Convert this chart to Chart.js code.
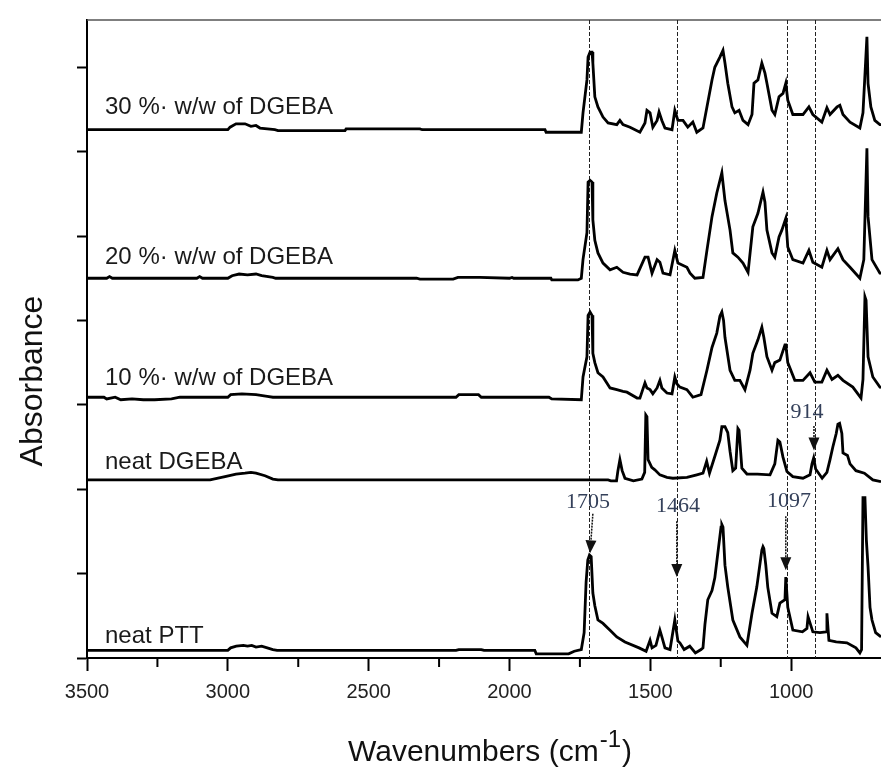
<!DOCTYPE html>
<html>
<head>
<meta charset="utf-8">
<script src="https://cdn.jsdelivr.net/npm/chart.js@4.4.1/dist/chart.umd.min.js"></script>
<style>
  body { margin: 0; background: #fff; }
  canvas { display: block; }
</style>
</head>
<body>
<canvas id="ftirChart" width="881" height="767"></canvas>
<script>
// FTIR spectra, stacked: [wavenumber (cm-1), absorbance (a.u.)]
const neatPTT = [
  [3500,0.09],[3000,0.09],[2990,0.12],[2970,0.14],[2945,0.15],[2930,0.14],[2915,0.15],[2900,0.13],
  [2880,0.14],[2860,0.12],[2840,0.10],[2825,0.09],[2190,0.09],[2180,0.10],[2100,0.10],[2090,0.09],
  [1910,0.09],[1905,0.05],[1790,0.05],[1770,0.08],[1745,0.10],[1735,0.30],[1728,0.90],[1722,1.16],
  [1716,1.22],[1710,1.20],[1704,0.77],[1697,0.62],[1686,0.45],[1668,0.41],[1643,0.33],[1619,0.25],
  [1590,0.19],[1540,0.12],[1515,0.08],[1501,0.21],[1494,0.12],[1480,0.15],[1466,0.33],[1459,0.25],
  [1448,0.12],[1430,0.10],[1413,0.45],[1402,0.20],[1395,0.18],[1380,0.10],[1360,0.14],[1340,0.06],
  [1320,0.10],[1313,0.12],[1306,0.40],[1296,0.69],[1281,0.80],[1271,0.95],[1260,1.25],[1249,1.55],
  [1246,1.58],[1242,1.55],[1235,1.10],[1225,0.84],[1207,0.45],[1182,0.25],[1157,0.15],[1139,0.53],
  [1122,0.84],[1104,1.28],[1100,1.32],[1097,1.30],[1090,1.10],[1083,0.84],[1068,0.53],[1051,0.49],
  [1040,0.65],[1022,0.69],[1019,0.96],[1012,0.60],[994,0.33],[960,0.31],[944,0.35],[940,0.49],
  [923,0.31],[898,0.30],[876,0.31],[873,0.53],[866,0.21],[840,0.19],[802,0.18],[770,0.12],
  [756,0.06],[750,0.10],[745,1.90],[738,1.90],[733,1.40],[727,1.08],[720,0.60],[713,0.45],
  [700,0.30],[681,0.25]
];
const neatDGEBA = [
  [3500,2.11],[3063,2.11],[3010,2.15],[2971,2.18],[2939,2.19],[2918,2.20],[2900,2.19],[2868,2.16],
  [2840,2.12],[2822,2.11],[1650,2.11],[1640,2.10],[1620,2.10],[1615,2.22],[1608,2.35],[1600,2.22],
  [1590,2.13],[1560,2.10],[1530,2.12],[1520,2.20],[1516,2.88],[1512,2.86],[1508,2.35],[1495,2.26],
  [1484,2.23],[1466,2.17],[1441,2.14],[1420,2.13],[1370,2.14],[1335,2.17],[1313,2.19],[1300,2.33],
  [1290,2.19],[1270,2.40],[1253,2.58],[1246,2.74],[1235,2.74],[1225,2.67],[1217,2.45],[1207,2.22],
  [1197,2.25],[1189,2.72],[1185,2.70],[1175,2.25],[1157,2.18],[1120,2.18],[1075,2.17],[1058,2.30],
  [1047,2.58],[1040,2.56],[1029,2.38],[1015,2.21],[994,2.15],[958,2.13],[933,2.17],[926,2.30],
  [920,2.37],[913,2.24],[890,2.13],[873,2.20],[862,2.35],[852,2.50],[840,2.66],[834,2.77],
  [828,2.78],[820,2.66],[816,2.43],[800,2.40],[791,2.30],[770,2.22],[740,2.19],[710,2.11],[681,2.09]
];
const dgeba10 = [
  [3500,3.09],[3440,3.09],[3430,3.07],[3400,3.09],[3380,3.06],[3340,3.07],[3300,3.06],[3260,3.06],
  [3200,3.07],[3170,3.09],[3000,3.09],[2990,3.12],[2950,3.13],[2900,3.12],[2860,3.10],[2840,3.09],
  [2190,3.09],[2180,3.12],[2110,3.12],[2100,3.09],[1860,3.09],[1850,3.07],[1745,3.06],[1739,3.33],
  [1725,3.57],[1721,4.06],[1714,4.10],[1707,4.06],[1704,3.61],[1697,3.50],[1686,3.38],[1668,3.33],
  [1643,3.20],[1619,3.18],[1597,3.16],[1583,3.15],[1547,3.08],[1537,3.08],[1519,3.26],[1512,3.20],
  [1501,3.18],[1491,3.13],[1476,3.20],[1466,3.29],[1459,3.20],[1441,3.14],[1423,3.13],[1413,3.33],
  [1406,3.25],[1395,3.21],[1370,3.18],[1349,3.09],[1320,3.12],[1299,3.41],[1281,3.68],[1264,3.85],
  [1253,4.05],[1246,4.10],[1240,4.00],[1235,3.80],[1217,3.41],[1200,3.29],[1182,3.29],[1164,3.18],
  [1146,3.41],[1136,3.61],[1118,3.77],[1104,3.92],[1097,3.80],[1086,3.57],[1068,3.41],[1058,3.50],
  [1040,3.53],[1022,3.71],[1019,3.71],[1012,3.50],[987,3.29],[958,3.29],[933,3.38],[916,3.27],
  [891,3.27],[873,3.41],[855,3.30],[834,3.35],[816,3.29],[781,3.21],[752,3.08],[745,3.30],
  [738,4.28],[734,4.24],[727,3.57],[710,3.33],[685,3.21],[681,3.20]
];
const dgeba20 = [
  [3500,4.50],[3430,4.50],[3420,4.52],[3410,4.50],[3110,4.50],[3100,4.52],[3090,4.50],[3000,4.50],
  [2985,4.53],[2960,4.55],[2930,4.54],[2900,4.55],[2880,4.53],[2840,4.51],[2830,4.50],[2330,4.50],
  [2318,4.49],[2200,4.49],[2183,4.51],[2105,4.51],[2000,4.50],[1991,4.51],[1985,4.50],[1853,4.50],
  [1850,4.48],[1757,4.48],[1745,4.50],[1739,4.72],[1725,5.04],[1721,5.64],[1714,5.66],[1707,5.64],
  [1704,5.19],[1697,4.95],[1686,4.80],[1668,4.68],[1643,4.60],[1619,4.63],[1597,4.57],[1572,4.55],
  [1547,4.54],[1519,4.75],[1508,4.75],[1494,4.56],[1476,4.72],[1466,4.69],[1455,4.56],[1430,4.54],
  [1413,4.83],[1402,4.68],[1370,4.63],[1359,4.56],[1342,4.50],[1313,4.51],[1299,4.83],[1281,5.23],
  [1264,5.51],[1246,5.75],[1235,5.42],[1217,5.07],[1207,4.80],[1189,4.75],[1171,4.68],[1153,4.57],
  [1136,5.11],[1118,5.27],[1100,5.52],[1093,5.40],[1086,5.07],[1068,4.80],[1058,4.75],[1043,4.99],
  [1033,5.07],[1019,5.21],[1012,4.87],[994,4.72],[958,4.68],[937,4.83],[923,4.69],[891,4.63],
  [873,4.83],[862,4.72],[834,4.85],[816,4.72],[791,4.63],[756,4.50],[742,4.72],[731,6.04],
  [727,5.23],[713,4.72],[685,4.56],[681,4.56]
];
const dgeba30 = [
  [3500,6.26],[3000,6.26],[2992,6.29],[2971,6.33],[2939,6.33],[2918,6.30],[2900,6.31],[2886,6.28],
  [2833,6.26],[2822,6.25],[2584,6.25],[2580,6.27],[2318,6.27],[2310,6.26],[1874,6.26],[1870,6.23],
  [1745,6.23],[1739,6.46],[1725,6.85],[1721,7.12],[1714,7.18],[1707,7.18],[1704,7.05],[1697,6.65],
  [1686,6.53],[1668,6.41],[1650,6.34],[1619,6.32],[1608,6.37],[1597,6.32],[1572,6.29],[1537,6.23],
  [1519,6.34],[1512,6.49],[1501,6.46],[1491,6.29],[1476,6.37],[1469,6.47],[1459,6.37],[1448,6.28],
  [1423,6.26],[1413,6.49],[1402,6.37],[1384,6.37],[1367,6.29],[1349,6.35],[1335,6.23],[1313,6.28],
  [1299,6.53],[1281,6.85],[1271,7.00],[1253,7.12],[1242,7.20],[1235,7.05],[1225,6.81],[1210,6.53],
  [1200,6.46],[1185,6.49],[1171,6.37],[1153,6.32],[1139,6.44],[1132,6.81],[1118,6.85],[1104,7.05],
  [1093,6.93],[1086,6.81],[1068,6.49],[1058,6.44],[1043,6.65],[1029,6.69],[1019,6.81],[1012,6.61],
  [994,6.44],[958,6.44],[937,6.53],[923,6.44],[891,6.35],[873,6.52],[862,6.44],[837,6.53],
  [827,6.55],[816,6.44],[791,6.35],[756,6.28],[745,6.46],[731,7.36],[727,6.81],[717,6.53],
  [703,6.37],[685,6.32],[681,6.32]
];

// labels of the traces and where they sit (left wavenumber, absorbance)
const traceLabels = ["neat PTT", "neat DGEBA", "10 %\u00b7 w/w of DGEBA", "20 %\u00b7 w/w of DGEBA", "30 %\u00b7 w/w of DGEBA"];
const traceLabelY = [0.26, 2.32, 3.31, 4.75, 6.53];
const traceLabelX = 3436;

// marked bands: dashed line position, label text, label position, arrow start/end
const bandLines = [1718, 1406, 1015, 916];
const bandNames = ["1705", "1464", "1097", "914"];
const bandNamePos = [[1721, 1.85], [1402, 1.80], [1008, 1.86], [944, 2.91]];
const bandArrows = [[1704, 1.71, 1714, 1.24], [1406, 1.62, 1406, 0.96], [1019, 1.68, 1019, 1.04], [919, 2.75, 919, 2.46]];

const xMin = 681, xMax = 3500;
const yMin = 0, yMax = 7.56;

const toXY = arr => arr.map(p => ({ x: p[0], y: p[1] }));
const spectra = [neatPTT, neatDGEBA, dgeba10, dgeba20, dgeba30];

function arrow(ctx, x1, y1, x2, y2) {
  const head = 13, half = 5.5;
  const ang = Math.atan2(y2 - y1, x2 - x1);
  const bx = x2 - head * Math.cos(ang), by = y2 - head * Math.sin(ang);
  ctx.beginPath();
  ctx.setLineDash([2, 1]);
  ctx.moveTo(x1, y1);
  ctx.lineTo(bx, by);
  ctx.stroke();
  ctx.setLineDash([]);
  ctx.beginPath();
  ctx.moveTo(x2, y2);
  ctx.lineTo(bx + half * Math.sin(ang), by - half * Math.cos(ang));
  ctx.lineTo(bx - half * Math.sin(ang), by + half * Math.cos(ang));
  ctx.closePath();
  ctx.fill();
}

const decorations = {
  id: 'decorations',
  beforeDatasetsDraw(chart) {
    const { ctx, chartArea: a, scales: { x } } = chart;
    ctx.save();
    // top frame line
    ctx.strokeStyle = '#555';
    ctx.lineWidth = 1.5;
    ctx.beginPath();
    ctx.moveTo(a.left, a.top);
    ctx.lineTo(a.right, a.top);
    ctx.stroke();
    // dashed band lines
    ctx.strokeStyle = '#222';
    ctx.lineWidth = 1;
    ctx.setLineDash([4, 2]);
    bandLines.forEach(v => {
      const px = Math.round(x.getPixelForValue(v)) + 0.5;
      ctx.beginPath();
      ctx.moveTo(px, a.top);
      ctx.lineTo(px, a.bottom);
      ctx.stroke();
    });
    ctx.restore();
  },
  afterDraw(chart) {
    const { ctx, chartArea: a, scales: { x, y } } = chart;
    ctx.save();
    // minor x ticks
    ctx.strokeStyle = '#000';
    ctx.lineWidth = 2;
    x.ticks.forEach(t => {
      if (t.value % 500 !== 0) {
        const px = x.getPixelForValue(t.value);
        ctx.beginPath();
        ctx.moveTo(px, a.bottom);
        ctx.lineTo(px, a.bottom + 9);
        ctx.stroke();
      }
    });
    // trace labels
    ctx.fillStyle = '#1a1a1a';
    ctx.font = '24px "Liberation Sans", Arial, sans-serif';
    ctx.textAlign = 'left';
    ctx.textBaseline = 'middle';
    traceLabels.forEach((t, i) => {
      ctx.fillText(t, x.getPixelForValue(traceLabelX), y.getPixelForValue(traceLabelY[i]));
    });
    // band labels and arrows
    ctx.fillStyle = '#34405a';
    ctx.font = '22px "Liberation Serif", "Times New Roman", serif';
    ctx.textAlign = 'center';
    bandNames.forEach((t, i) => {
      ctx.fillText(t, x.getPixelForValue(bandNamePos[i][0]), y.getPixelForValue(bandNamePos[i][1]));
    });
    ctx.strokeStyle = '#111';
    ctx.fillStyle = '#111';
    ctx.lineWidth = 1.5;
    bandArrows.forEach(r => {
      arrow(ctx, x.getPixelForValue(r[0]), y.getPixelForValue(r[1]),
                 x.getPixelForValue(r[2]), y.getPixelForValue(r[3]));
    });
    // axis titles
    ctx.fillStyle = '#111';
    ctx.textBaseline = 'alphabetic';
    ctx.textAlign = 'left';
    const big = '30px "Liberation Sans", Arial, sans-serif';
    const sup = '24px "Liberation Sans", Arial, sans-serif';
    ctx.font = big;
    const w1 = ctx.measureText('Wavenumbers (cm').width;
    const w3 = ctx.measureText(')').width;
    ctx.font = sup;
    const w2 = ctx.measureText('-1').width;
    let sx = 489 - (w1 + w2 + w3) / 2;
    ctx.font = big;
    ctx.fillText('Wavenumbers (cm', sx, 761);
    ctx.font = sup;
    ctx.fillText('-1', sx + w1 + 1, 747);
    ctx.font = big;
    ctx.fillText(')', sx + w1 + w2 + 2, 761);
    ctx.translate(33, 381);
    ctx.rotate(-Math.PI / 2);
    ctx.textAlign = 'center';
    ctx.textBaseline = 'middle';
    ctx.font = '32px "Liberation Sans", Arial, sans-serif';
    ctx.fillText('Absorbance', 0, 0);
    ctx.restore();
  }
};

new Chart(document.getElementById('ftirChart'), {
  type: 'line',
  data: {
    datasets: spectra.map((s, i) => ({
      label: traceLabels[i],
      data: toXY(s),
      borderColor: '#000',
      borderWidth: 2.8,
      pointRadius: 0,
      tension: 0,
      fill: false
    }))
  },
  options: {
    responsive: false,
    animation: false,
    layout: { padding: { top: 20, right: 0, left: 0, bottom: 0 } },
    plugins: { legend: { display: false }, tooltip: { enabled: false } },
    scales: {
      x: {
        type: 'linear',
        reverse: true,
        min: xMin,
        max: xMax,
        afterBuildTicks: s => { s.ticks = s.ticks.filter(t => t.value % 250 === 0); },
        afterFit: s => { s.height = 109; },
        ticks: {
          stepSize: 250,
          autoSkip: false,
          maxRotation: 0,
          padding: 9,
          color: '#222',
          font: { family: '"Liberation Sans", Arial, sans-serif', size: 20 },
          callback: v => (v % 500 === 0 ? String(v) : '')
        },
        grid: {
          drawOnChartArea: false,
          tickLength: 13,
          tickWidth: 2,
          tickColor: c => (c.tick && c.tick.value % 500 === 0 ? '#000' : 'rgba(0,0,0,0)')
        },
        border: { color: '#000', width: 2 }
      },
      y: {
        type: 'linear',
        min: yMin,
        max: yMax,
        afterBuildTicks: s => { s.ticks = s.ticks.filter(t => Number.isInteger(t.value)); },
        afterFit: s => { s.width = 87; },
        ticks: { stepSize: 1, display: false },
        grid: { drawOnChartArea: false, tickLength: 10, tickWidth: 2, tickColor: '#000' },
        border: { color: '#000', width: 2 }
      }
    }
  },
  plugins: [decorations]
});
</script>
</body>
</html>
